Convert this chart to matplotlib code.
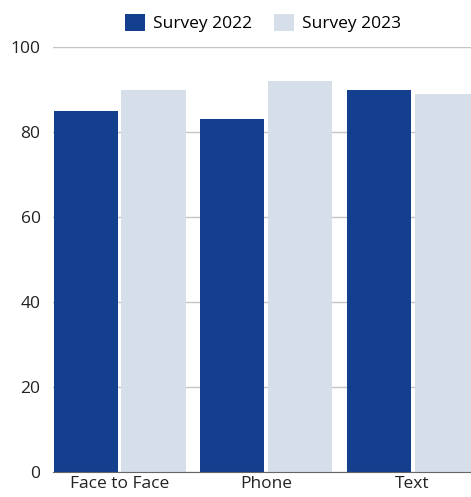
import matplotlib.pyplot as plt
import numpy as np

plt.rcParams['font.family'] = ['Open Sans', 'DejaVu Sans']

categories = ['Face to Face', 'Phone', 'Text']
survey_2022 = [85, 83, 90]
survey_2023 = [90, 92, 89]
yticks = [0, 20, 40, 60, 80, 100]

dark = '#143F8E'
light = '#D5DEE9'

fig = plt.figure(figsize=(4.71, 4.97), dpi=100)
ax = fig.add_axes([53 / 471, 25 / 497, 1 - 53 / 471, 425 / 497])

x = np.arange(len(categories))
w = 0.437
off = 0.232
ax.bar(x - off, survey_2022, w, color=dark, label='Survey 2022', zorder=3)
ax.bar(x + off, survey_2023, w, color=light, label='Survey 2023', zorder=3)

ax.set_xlim(-0.454, 2.399)
ax.set_ylim(0, 100)
ax.set_yticks(yticks)
ax.set_xticks(x)
ax.set_xticklabels(categories)
ax.tick_params(axis='both', length=0, labelsize=12.5, colors='#222222')
ax.tick_params(axis='y', pad=9)
ax.tick_params(axis='x', pad=3)

ax.grid(axis='y', color='#c4c4c4', linewidth=1, zorder=0)
for s in ['top', 'right', 'left']:
    ax.spines[s].set_visible(False)
ax.spines['bottom'].set_color('#666666')
ax.spines['bottom'].set_zorder(4)

fig.legend(loc='center', bbox_to_anchor=(263 / 471, 1 - 23 / 497), ncol=2,
           frameon=False, fontsize=12.5, handlelength=1.15, handleheight=1.15,
           columnspacing=1.3, handletextpad=0.45)

plt.savefig('out.png')
